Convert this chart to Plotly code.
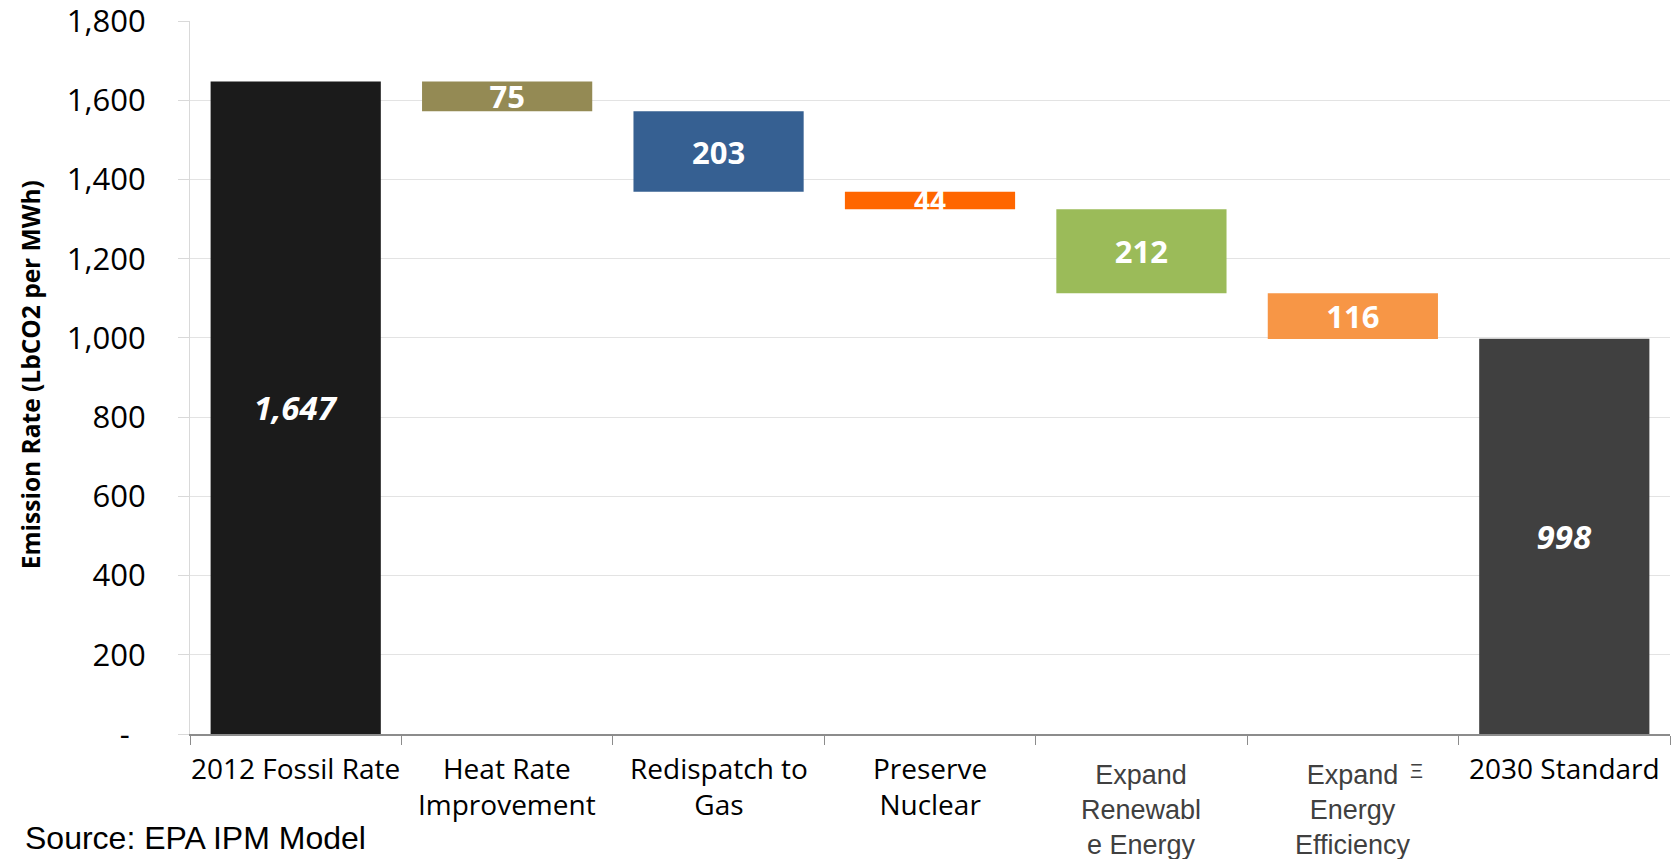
import plotly.graph_objects as go

# ---- data ----
categories = ["2012 Fossil Rate", "Heat Rate<br>Improvement", "Redispatch to<br>Gas",
              "Preserve<br>Nuclear", "Expand<br>Renewabl<br>e Energy", "Expand<br>Energy<br>Efficiency",
              "2030 Standard"]
start_value = 1647
step_reductions = [75, 203, 44, 212, 116]
end_value = 998
bar_colors = ["#1b1b1b", "#948a54", "#366092", "#ff6600", "#9bbb59", "#f79646", "#404040"]
y_tick_vals = [0, 200, 400, 600, 800, 1000, 1200, 1400, 1600, 1800]
y_tick_text = ["-\u00a0\u00a0", "200", "400", "600", "800", "1,000", "1,200", "1,400", "1,600", "1,800"]

# ---- build waterfall geometry from data ----
heights = [start_value]
bases = [0]
running = start_value
for s in step_reductions:
    running -= s
    heights.append(s)
    bases.append(running)
heights.append(end_value)
bases.append(0)

texts = [f"<b><i>{start_value:,}</i></b>"] + [f"<b>{s}</b>" for s in step_reductions] + \
        [f"<b><i>{end_value:,}</i></b>"]
text_sizes = [33, 31, 31, 28, 31, 31, 33]

x_idx = list(range(len(categories)))

fig = go.Figure()
fig.add_trace(go.Bar(
    x=x_idx, y=heights, base=bases,
    marker=dict(color=bar_colors, line=dict(width=0)),
    text=texts, textposition="inside", insidetextanchor="middle",
    constraintext="none", textangle=0,
    textfont=dict(family="Open Sans", size=text_sizes, color="white"),
    hoverinfo="skip",
))

# category labels under the axis
annotations = []
for i, cat in enumerate(categories):
    is_expand = cat.startswith("Expand")
    annotations.append(dict(
        x=i, xref="x", y=0, yref="paper", yanchor="top", xanchor="center",
        yshift=-24 if is_expand else -13,
        text=cat, showarrow=False, align="center",
        font=dict(family="Liberation Sans, Arial" if is_expand else "Open Sans",
                  size=27 if is_expand else 28,
                  color="#404040" if is_expand else "#000000"),
    ))

# small clipped glyph fragment visible next to the last label in the original
annotations.append(dict(
    x=5.3, xref="x", y=0, yref="paper", yanchor="top", xanchor="center", yshift=-24,
    text="Ξ", showarrow=False,
    font=dict(family="Liberation Sans, Arial", size=20, color="#404040"),
))

annotations.append(dict(
    x=-0.108, xref="paper", y=0.5035, yref="paper", xanchor="center", yanchor="middle",
    text="<b>Emission Rate (LbCO2 per MWh)</b>", textangle=-90, showarrow=False,
    font=dict(family="Open Sans", size=24.5, color="#000000"),
))
annotations.append(dict(
    x=-0.113, xref="paper", y=-0.1459, yref="paper", xanchor="left", yanchor="middle",
    text="Source: EPA IPM Model", showarrow=False,
    font=dict(family="Liberation Sans, Arial", size=32, color="#000000"),
))

fig.update_layout(
    width=1677, height=859,
    margin=dict(l=190, r=7, t=21, b=125, pad=0),
    paper_bgcolor="white", plot_bgcolor="white",
    showlegend=False, bargap=0.195,
    annotations=annotations,
)
fig.update_xaxes(
    automargin=False,
    range=[-0.5, len(categories) - 0.5], tickmode="array",
    tickvals=[i - 0.5 for i in x_idx] + [len(categories) - 0.5],
    showticklabels=False, ticks="outside", ticklen=9, tickcolor="#8c8c8c", tickwidth=1,
    showline=True, linecolor="#8c8c8c", linewidth=1.5, showgrid=False, zeroline=False,
)
fig.update_yaxes(
    automargin=False,
    range=[0, 1800], tickmode="array", tickvals=y_tick_vals, ticktext=y_tick_text,
    tickfont=dict(family="Open Sans", size=31, color="#000000"),
    ticks="outside", ticklen=11, tickcolor="#d9d9d9", tickwidth=1,
    ticklabelstandoff=26, ticklabeloverflow="allow",
    showline=True, linecolor="#d9d9d9", linewidth=1,
    showgrid=True, gridcolor="#e3e3e3", gridwidth=1, zeroline=False,
)

fig.write_html("out.html", config={"displayModeBar": False},
               post_script="document.body.style.margin='0px';")
